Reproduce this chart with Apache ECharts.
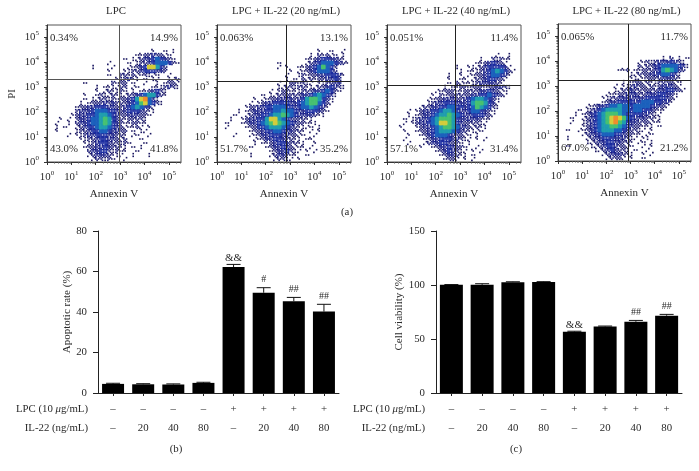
<!DOCTYPE html>
<html><head><meta charset="utf-8">
<style>html,body{margin:0;padding:0;background:#fff}#c{width:699px;height:471px}</style>
<script src="https://cdn.jsdelivr.net/npm/echarts@6/dist/echarts.min.js"></script>
</head><body><div id="c"></div>
<script>
// Flow-cytometry density: one string per row from the top, one digit per cell (0 empty, 9 hottest)
const titles = ['LPC','LPC + IL-22 (20 ng/mL)','LPC + IL-22 (40 ng/mL)','LPC + IL-22 (80 ng/mL)'];
const upperLeft  = ['0.34%','0.063%','0.051%','0.065%'];
const upperRight = ['14.9%','13.1%','11.4%','11.7%'];
const lowerLeft  = ['43.0%','51.7%','57.1%','67.0%'];
const lowerRight = ['41.8%','35.2%','31.4%','21.2%'];
const gateX = [944, 690, 630, 835];
const gateY = [2090, 1740, 1200, 1740];
const density1 = ['','','','','','',
'00000000000000000000000000100101000',
'00000000000000000000001122322110',
'00000000000000000001011233454321',
'000000000000000100001012234555421',
'000000000001000010001123488642',
'000000000000000100011223444332',
'0000000000000001002212112111001',
'000000000000000001123110101100112',
'000000000100000021220100100101221',
'000000000000101111220110001112321',
'000000000000101211210101123421',
'000000000100121121112234566421',
'000000000101122121223468953100',
'00000000101222323222345785421',
'000000012233444332234565431',
'000000023334555443234443211',
'00000012334456654322333221',
'0001010233455676432122221',
'0010010233455676432112211',
'00101001234456654321112101',
'00100001223445543322010110',
'00000101123344433221011001',
'00000000112234433212000100',
'00000000011234432212100010',
'00000000012233432211010100',
'00000000002334421211001000',
'00000000001233321110010001',
'00000000000122121001000000'];
const density2 = ['','','','','','',
'0000000000000000000000000100100100',
'0000000000000000000000010212110100',
'0000000000000000000000112344332100',
'0000000000000001000000123455543210',
'000000000000000101001123457542',
'000000000000000000101123455542',
'00000000000000000100121223344431',
'0000000000000000010102121223343',
'0000000000000001002212110112233',
'000000000000000112212211122343210',
'00000000000001012211122233454210',
'000000000001011222222334565431',
'00000000010112233332346776431',
'00000000101233444433456775421',
'0000000122334455544345565431',
'0000010123334455655433444321',
'000010012334456676543333211',
'000100123344688654322211',
'0010001233456787654322111',
'00100001224456665432111101',
'00000000122344554332210101',
'0000100011233444332211001',
'000000000112334432211011',
'00000000010112344322110010',
'000000001000123343211101',
'0000000000000123342110101',
'00000000100001233211001',
'0000000000000012211010'];
const density3 = ['','','','','','','',
'000000000000000000000000000100100',
'00000000000000000000000100212110',
'0000000000000000000000112343210',
'0000000000000000010011123444431',
'00000000000000000010111234565421',
'00000000000000010010112234554310',
'000000000000000100110122344321',
'00000000000000010211112333321',
'00000000000000101122122212233210',
'0000000000001122211222233432110',
'000000000001021222222334454321',
'0000000000112233322345665431',
'0000000000123344433346776431',
'0000000012233445544345765421',
'000001012334456654334554321',
'000001012334566765433444321',
'00001012334567776433333211',
'0000101233456887643222211',
'0001000123345677653321211',
'000010012234566654321111',
'00000100123455543221101',
'0000100001233444332110101',
'000001000123344322101',
'00000000100123343221001',
'000000000000123432110101',
'0000000000000123321101',
'0000000000000012210101'];
const density4 = ['','','','','','','','',
'000000000000000000000000001020101',
'00000000000000000000112123334321',
'000000000000000000002122345555431',
'00000000000000011201122234676532',
'0000000000000000001122233455431',
'0000000000000000001111222233321',
'0000000000000000101221211222211',
'0000000000000010112322121233321',
'00000000000000112232222223344321',
'000000000000111223332233344331',
'000000000001122333333344444321',
'00000000000123344443455544331',
'0000000112334556554555543321',
'000001012345666655455443211',
'00001012345677765444433211',
'00010012345678987543332211',
'00010012345678976433222111',
'00000012345667765432211101',
'001001123456665543221101',
'000000123345554432211011',
'00100001233444333211011',
'000000011233443322101101',
'001000001123443221100101',
'00000000011234322101001',
'000000000001233321100101',
'0000000000001222101001'];
const densities = [density1, density2, density3, density4];
// Bar charts
const lpcRow = ['–','–','–','–','+','+','+','+'];
const il22Row = ['–','20','40','80','–','20','40','80'];
const apoptosis = [4.5,4.3,4.2,5.0,62.2,49.5,45.3,40.2];
const apoptosisTop = [4.8,4.6,4.5,5.3,63.5,52.0,47.2,43.8];
const apoptosisMarks = ['','','','','&&','#','##','##'];
const viability = [100.2,100.2,102.6,102.8,56.8,61.6,66.0,71.6];
const viabilityTop = [100.4,101.2,103.0,103.1,57.2,62.0,67.2,72.8];
const viabilityMarks = ['','','','','&&','','##','##'];

const FONT = '"Liberation Serif","Times New Roman",serif';
const INK = '#2a2a2a';
const FS = 10.8;
const palette = ['', '#191660', '#191a74', '#1a2088', '#1b2ca0', '#1b60bc', '#1f9cae', '#46c070', '#d4cc3a', '#f08c2c'];
// how many of the nine sub-dots of a cell each density digit lights
const dotsLit = [0, 2, 4, 6, 8, 9, 9, 9, 9, 9];
const subOrders = [[4,0,8,2,6,1,5,3,7],[1,7,3,5,0,4,8,2,6],[2,6,0,4,8,3,7,1,5],[5,3,7,0,2,6,1,8,4]];
const panels = [
  {l:47, r:181, t:25, b:162},
  {l:217,r:351, t:25, b:162},
  {l:387,r:521, t:25, b:162},
  {l:558,r:691, t:24, b:161}
];
const CELL = 4, PX_X = 24.3, PX_Y = 25, yMaxDec = 5.48, xMaxDec = 5.5;
const powers = [1,10,100,1000,10000,100000];

const grids = [], xAxes = [], yAxes = [], series = [], graphics = [];
const logLabel = v => '{b|10}{s|' + Math.round(Math.log10(v)) + '}';
const rich = {b:{fontFamily:FONT,fontSize:FS,color:INK}, s:{fontFamily:FONT,fontSize:7,color:INK,padding:[0,0,7,0]}};
function txt(x,y,text,align,extra){
  graphics.push({type:'text',x,y,silent:true,z:50,style:Object.assign({text,fill:INK,font:FS+'px '+FONT,textAlign:align||'center',textVerticalAlign:'middle'},extra||{})});
}
panels.forEach((p,i)=>{
  grids.push({left:p.l,top:p.t,width:p.r-p.l,height:p.b-p.t,show:true,borderColor:'#555',borderWidth:1,backgroundColor:'#fff'});
  const axisCommon = {type:'log',logBase:10,min:1,splitLine:{show:false},
    axisLine:{show:true,lineStyle:{color:'#333',width:1}},
    axisTick:{show:true,length:3,lineStyle:{color:'#333'},customValues:powers},
    minorTick:{show:true,splitNumber:9,length:1.5,lineStyle:{color:'#555'}},
    axisLabel:{customValues:powers,formatter:logLabel,rich,margin:8}};
  xAxes.push(Object.assign({},axisCommon,{gridIndex:i,max:Math.pow(10,xMaxDec),nameMoveOverlap:false,
    name:'Annexin V',nameLocation:'middle',nameGap:27,nameTextStyle:{fontFamily:FONT,fontSize:11,color:INK}}));
  yAxes.push(Object.assign({},axisCommon,{gridIndex:i,max:Math.pow(10,yMaxDec)}));

  // density cells, coolest first so hot cells sit on top
  for(let level=1;level<=9;level++){
    const pts=[];
    densities[i].forEach((row,r)=>{
      for(let c=0;c<row.length;c++){
        if(+row[c]===level){
          const order=subOrders[(r*3+c*5+i)%4];
          for(let k=0;k<dotsLit[level];k++){
            const sx=order[k]%3, sy=Math.floor(order[k]/3);
            pts.push([Math.pow(10,(c+(sx+0.5)/3)*CELL/PX_X), Math.pow(10,yMaxDec-(r+(sy+0.5)/3)*CELL/PX_Y)]);
          }
        }
      }
    });
    series.push({type:'scatter',xAxisIndex:i,yAxisIndex:i,symbol:'rect',symbolSize:level<5?1.6:1.9,silent:true,
      animation:false,itemStyle:{color:palette[level],opacity:1},data:pts,z:2+level});
  }
  series.push({type:'scatter',xAxisIndex:i,yAxisIndex:i,data:[],silent:true,z:20,
    markLine:{silent:true,symbol:'none',animation:false,label:{show:false},z:20,
      lineStyle:{color:i===0?'#555':'#222',width:1,type:'solid'},
      data:[{xAxis:gateX[i]},{yAxis:gateY[i]}]}});

  txt((p.l+p.r)/2+2,11,titles[i]);
  txt(p.l+3,p.t+13,upperLeft[i],'left');
  txt(p.r-3,p.t+13,upperRight[i],'right');
  txt(p.l+3,p.b-13,lowerLeft[i],'left');
  txt(p.r-3,p.b-13,lowerRight[i],'right');
});
txt(12,94,'PI','center',{});
graphics[graphics.length-1].rotation=Math.PI/2;
txt(347,212,'(a)');

// Bars
const barGrids=[{l:98,r:339,t:231,b:393,vals:apoptosis,tops:apoptosisTop,marks:apoptosisMarks,max:80,step:20,name:'Apoptotic rate (%)',bw:22,rowX:88,cap:'(b)',capX:176,nameGap:25},
                {l:436,r:682,t:231,b:393,vals:viability,tops:viabilityTop,marks:viabilityMarks,max:150,step:50,name:'Cell viability (%)',bw:23,rowX:425,cap:'(c)',capX:516,nameGap:31}];
barGrids.forEach((g,k)=>{
  const gi=panels.length+k;
  grids.push({left:g.l,top:g.t,width:g.r-g.l,height:g.b-g.t});
  xAxes.push({type:'category',gridIndex:gi,data:lpcRow.map((v,i)=>v+'\n'+il22Row[i]),
    axisLine:{show:true,lineStyle:{color:'#222',width:1}},
    axisTick:{show:true,alignWithLabel:true,length:3,lineStyle:{color:'#222'}},
    axisLabel:{interval:0,fontFamily:FONT,fontSize:FS,color:INK,lineHeight:19,margin:7}});
  yAxes.push({type:'value',gridIndex:gi,min:0,max:g.max,interval:g.step,splitLine:{show:false},
    axisLine:{show:true,lineStyle:{color:'#222',width:1}},
    axisTick:{show:true,length:5,lineStyle:{color:'#222'}},
    axisLabel:{fontFamily:FONT,fontSize:FS,color:INK,margin:11},nameMoveOverlap:false,
    name:g.name,nameLocation:'middle',nameGap:g.nameGap,nameTextStyle:{fontFamily:FONT,fontSize:11,color:INK}});
  series.push({type:'custom',xAxisIndex:gi,yAxisIndex:gi,silent:true,animation:false,z:1,
    data:g.tops.map((t,i)=>[i,t,g.marks[i]]),
    encode:{x:0,y:1},
    renderItem:(params,api)=>{
      const i=api.value(0), top=api.coord([i,api.value(1)]), base=api.coord([i,g.vals[i]]);
      const m=g.marks[i];
      const kids=[
        {type:'line',shape:{x1:top[0],y1:base[1],x2:top[0],y2:top[1]},style:{stroke:'#111',lineWidth:1}},
        {type:'line',shape:{x1:top[0]-7,y1:top[1],x2:top[0]+7,y2:top[1]},style:{stroke:'#111',lineWidth:1}}];
      if(m) kids.push({type:'text',x:top[0],y:top[1]-(m==='&&'?1:3),style:{text:m,fill:INK,font:(m==='&&'?'11px ':'10px ')+FONT,textAlign:'center',textVerticalAlign:'bottom'}});
      return {type:'group',children:kids};
    }});
  series.push({type:'bar',xAxisIndex:gi,yAxisIndex:gi,barWidth:g.bw,silent:true,animation:false,z:2,
    itemStyle:{color:'#000'},data:g.vals});
  graphics.push({type:'text',x:g.rowX,y:409,silent:true,style:{text:'LPC (10 {i|μ}g/mL)',fill:INK,font:FS+'px '+FONT,textAlign:'right',textVerticalAlign:'middle',
    rich:{i:{fontStyle:'italic',fontFamily:FONT,fontSize:FS,fill:INK}}}});
  txt(g.rowX,428,'IL-22 (ng/mL)','right');
  txt(g.capX,449,g.cap);
});

const chart=echarts.init(document.getElementById('c'),null,{renderer:'canvas'});
chart.setOption({animation:false,backgroundColor:'#fff',grid:grids,xAxis:xAxes,yAxis:yAxes,series,graphic:{elements:graphics}});
</script>
</body></html>
